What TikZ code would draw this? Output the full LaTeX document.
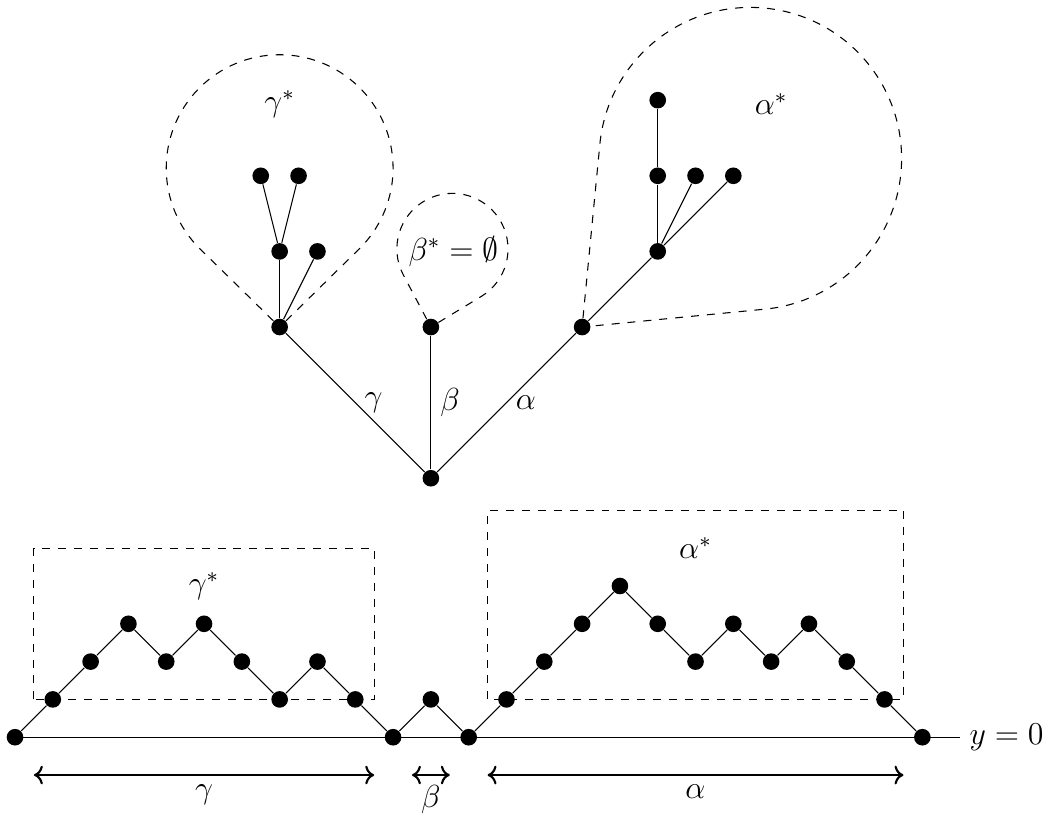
\documentclass[tikz,border=0pt]{standalone}
\usepackage{amsmath}
\usepackage{amssymb}
\usepackage{tikz}
\usetikzlibrary{arrows.meta, positioning, calc}
\tikzset{
	vtx/.style   ={circle, fill=black, minimum size=2.2mm, inner sep=0pt},
	region/.style={dashed},
	span/.style  ={<->, thick},
}

\begin{document}
\begin{tikzpicture}[x=0.5cm, y=0.5cm, every node/.style={font=\large}]
	\useasboundingbox (-0.397,-2.09) rectangle (27.35,19.5);
	% lattice path
	\foreach \h [count=\i from 0] in {0,1,2,3,2,3,2,1,2,1,0,1,0,1,2,3,4,3,2,3,2,3,2,1,0}
		\node[vtx] (d\i) at (\i,\h) {};
	\foreach \i in {0,...,23} {
		\pgfmathtruncatemacro\j{\i+1}
		\draw (d\i) -- (d\j);
	}
	\coordinate (yend) at (25,0);
	\draw (d0.center) -- (yend) node[right] {$y=0$};
	\draw[region] (0.5,1) rectangle (9.5,5);
	\node (gbox) at (5,4) {$\gamma^*$};
	\draw[region] (12.5,1) rectangle (23.5,6);
	\node (abox) at (18,5) {$\alpha^*$};
	% spans
	\coordinate (g0) at (0.5,-1);  \coordinate (g1) at (9.5,-1);
	\coordinate (b0) at (10.5,-1); \coordinate (b1) at (11.5,-1);
	\coordinate (a0) at (12.5,-1); \coordinate (a1s) at (23.5,-1);
	\draw[span] (g0) -- (g1) node[midway, below] {$\gamma$};
	\draw[span] (b0) -- (b1) node[midway, below] {$\beta$};
	\draw[span] (a0) -- (a1s) node[midway, below] {$\alpha$};
	% tree
	\node[vtx] (r) at (11,6.85) {};
	\node[vtx] (c) at (7,10.85) {};
	\node[vtx] (b) at (11,10.85) {};
	\node[vtx] (a) at (15,10.85) {};
	\node[vtx] (c1) at (7,12.85) {};
	\node[vtx] (c2) at (8,12.85) {};
	\node[vtx] (c11) at (6.5,14.85) {};
	\node[vtx] (c12) at (7.5,14.85) {};
	\node[vtx] (a1) at (17,12.85) {};
	\node[vtx] (a11) at (17,14.85) {};
	\node[vtx] (a12) at (18,14.85) {};
	\node[vtx] (a13) at (19,14.85) {};
	\node[vtx] (a111) at (17,16.85) {};
	\draw (r) -- (c) node[midway, right] {$\gamma$};
	\draw (r) -- (b) node[midway, right] {$\beta$};
	\draw (r) -- (a) node[midway, right] {$\alpha$};
	\draw (c) -- (c1);
	\draw (c) -- (c2);
	\draw (c1) -- (c11);
	\draw (c1) -- (c12);
	\draw (a) -- (a1);
	\draw (a1) -- (a11);
	\draw (a1) -- (a12);
	\draw (a1) -- (a13);
	\draw (a11) -- (a111);
	% subtrees
	\draw[region] (c) -- (4.9,12.91) arc[start angle=225.58, end angle=-45.58, radius=3] -- (c);
	\draw[region] (b) -- (10.27,12.23) arc[start angle=207.8, end angle=-58.6, radius=1.47] -- (b);
	\draw[region] (a) -- (15.47,15.69) arc[start angle=174.46, end angle=-84.46, radius=4] -- (a);
	\node (gtop) at (7,16.75) {$\gamma^*$};
	\node (btop) at (11.6,12.85) {$\beta^*=\emptyset$};
	\node (atop) at (20,16.75) {$\alpha^*$};
\end{tikzpicture}
\end{document}
